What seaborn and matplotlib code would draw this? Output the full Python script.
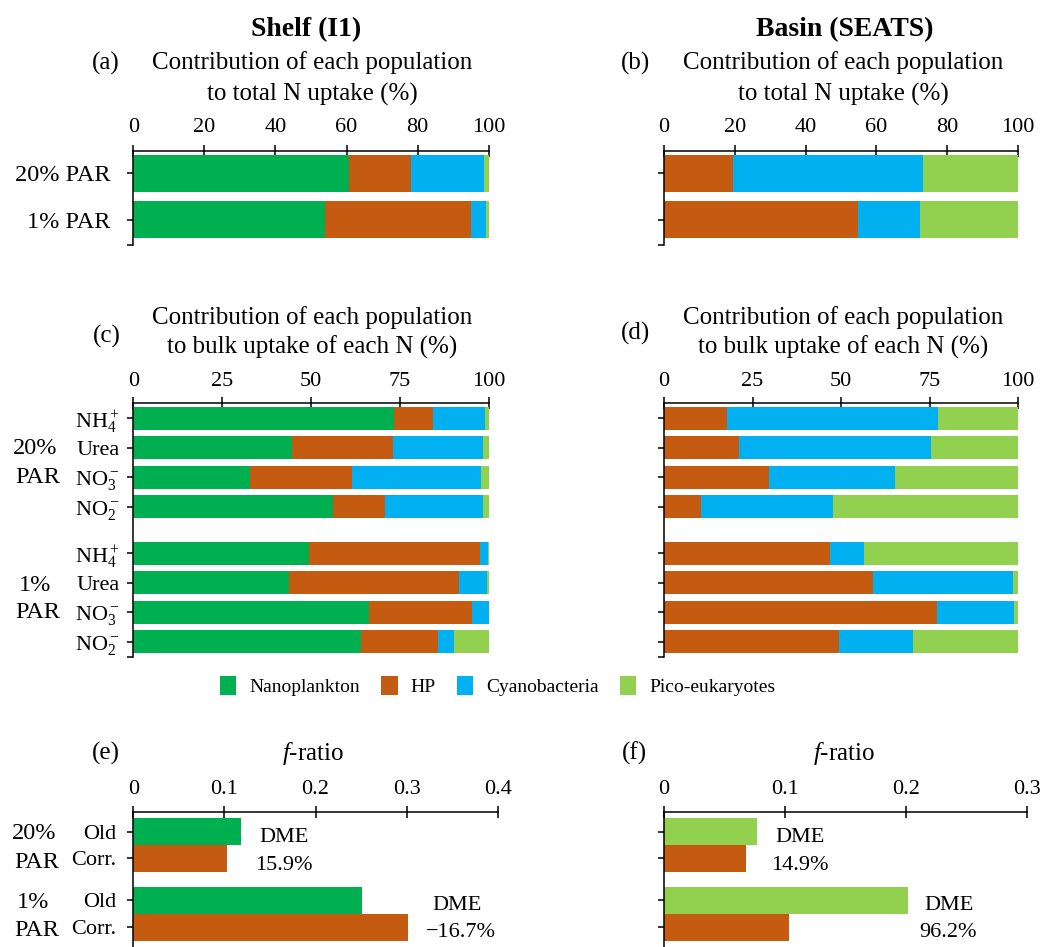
import numpy as np
import pandas as pd
import matplotlib
matplotlib.use("Agg")
import matplotlib.pyplot as plt
from matplotlib.patches import Patch
import seaborn as sns

# ------------------------------------------------------------------ data
populations = ["Nanoplankton", "HP", "Cyanobacteria", "Pico-eukaryotes"]
light_levels = ["20% PAR", "1% PAR"]

# (a) shelf: contribution to total N uptake (%)
shelf_total_nano = [60.8, 54.0]
shelf_total_hp = [17.4, 41.0]
shelf_total_cyano = [20.5, 4.1]
shelf_total_pico = [1.3, 0.9]

# (b) basin: contribution to total N uptake (%)
basin_total_nano = [0.0, 0.0]
basin_total_hp = [19.4, 54.9]
basin_total_cyano = [53.9, 17.4]
basin_total_pico = [26.7, 27.7]

# (c)/(d) contribution to bulk uptake of each N (%), 20% PAR then 1% PAR
n_species = [r"NH$_4^+$", "Urea", r"NO$_3^-$", r"NO$_2^-$"]
shelf_bulk_nano = [73.4, 44.7, 32.8, 56.3, 49.4, 43.9, 66.2, 64.2]
shelf_bulk_hp = [10.8, 28.5, 28.7, 14.5, 48.1, 47.8, 29.0, 21.4]
shelf_bulk_cyano = [14.8, 25.2, 36.2, 27.7, 2.3, 7.9, 4.8, 4.6]
shelf_bulk_pico = [1.0, 1.6, 2.3, 1.5, 0.2, 0.4, 0.0, 9.8]

basin_bulk_nano = [0.0, 0.0, 0.0, 0.0, 0.0, 0.0, 0.0, 0.0]
basin_bulk_hp = [17.7, 21.3, 29.8, 10.5, 46.8, 58.9, 77.0, 49.5]
basin_bulk_cyano = [59.6, 54.1, 35.5, 37.1, 9.7, 39.8, 21.9, 20.9]
basin_bulk_pico = [22.7, 24.6, 34.7, 52.4, 43.5, 1.3, 1.1, 29.6]

# (e)/(f) f-ratio
fratio_kinds = ["Old", "Corr."]
shelf_fratio_old = [0.118, 0.251]
shelf_fratio_corr = [0.1025, 0.302]
basin_fratio_old = [0.077, 0.202]
basin_fratio_corr = [0.0675, 0.103]
shelf_dme = ["15.9%", "\u221216.7%"]
basin_dme = ["14.9%", "96.2%"]

x_ticks_total = [0, 20, 40, 60, 80, 100]
x_ticks_bulk = [0, 25, 50, 75, 100]
x_ticks_shelf_f = [0, 0.1, 0.2, 0.3, 0.4]
x_ticks_basin_f = [0, 0.1, 0.2, 0.3]

# ------------------------------------------------------------------ style
pop_colors = ["#00B050", "#C55A11", "#00B0F0", "#92D050"]

sns.set_theme(style="white")
plt.rcParams["font.family"] = ["Liberation Serif", "DejaVu Serif"]
plt.rcParams.update({
    "mathtext.fontset": "custom",
    "mathtext.rm": "Liberation Serif",
    "mathtext.it": "Liberation Serif:italic",
    "mathtext.bf": "Liberation Serif:bold",
    "text.color": "black",
    "axes.labelcolor": "black",
    "xtick.color": "black",
    "ytick.color": "black",
    "axes.edgecolor": "black",
    "axes.linewidth": 1.1,
})

W, H = 1045, 947
fig = plt.figure(figsize=(W / 100, H / 100), dpi=100)


def fx(x):
    return x / W


def fy(y):
    return 1 - y / H


def add_ax(left, right, top, bottom):
    return fig.add_axes([fx(left), fy(bottom), (right - left) / W, (bottom - top) / H])


def style_axis(ax, xticks, xlim, ylim, ypos, ylabels, ylabelsize, ypad, xpad, hook=True):
    ax.set_xlim(*xlim)
    ax.set_ylim(*ylim)
    ax.xaxis.tick_top()
    ax.set_xticks(xticks)
    ax.set_xticklabels([f"{t:g}" for t in xticks])
    ax.set_yticks(ypos)
    ax.set_yticklabels(ylabels)
    if hook:
        ax.set_yticks([ylim[0]], minor=True)
    ax.set_xlabel("")
    ax.set_ylabel("")
    for s in ["right", "bottom"]:
        ax.spines[s].set_visible(False)
    ax.tick_params(axis="x", which="major", direction="inout", length=8, width=1.1,
                   labelsize=16, pad=xpad, top=True, bottom=False)
    ax.tick_params(axis="y", which="both", direction="out", length=4, width=1.1,
                   labelsize=ylabelsize, pad=ypad, left=True)


def stacked(ax, layers, pos, width):
    cum = np.cumsum(np.array(layers, dtype=float), axis=0)
    for k in range(len(layers) - 1, -1, -1):
        df = pd.DataFrame({"value": cum[k], "pos": pos})
        sns.barplot(data=df, x="value", y="pos", orient="y", native_scale=True,
                    color=pop_colors[k], saturation=1, width=width,
                    errorbar=None, linewidth=0, ax=ax)


def fratio(ax, old, corr, pos_old, pos_corr, old_color):
    df = pd.DataFrame({
        "value": list(old) + list(corr),
        "pos": list(pos_old) + list(pos_corr),
        "kind": [fratio_kinds[0]] * len(old) + [fratio_kinds[1]] * len(corr),
    })
    sns.barplot(data=df, x="value", y="pos", hue="kind", orient="y", native_scale=True,
                palette={fratio_kinds[0]: old_color, fratio_kinds[1]: pop_colors[1]},
                saturation=1, width=1.0, dodge=False, errorbar=None, linewidth=0,
                legend=False, ax=ax)


# ------------------------------------------------------------------ layout
pos_total = np.arange(len(light_levels))
pos_bulk = np.r_[np.arange(4), np.arange(4) + 4.57]
pos_f_old = np.array([0, 2.57])
pos_f_corr = pos_f_old + 1
pos_f = np.sort(np.r_[pos_f_old, pos_f_corr])

# (a)
ax_a = add_ax(133.3, 488.7, 150.7, 245)
stacked(ax_a, [shelf_total_nano, shelf_total_hp, shelf_total_cyano, shelf_total_pico], pos_total, 0.79)
style_axis(ax_a, x_ticks_total, (0, 100), (1.535, -0.48), pos_total, light_levels, 17.5, 12.5, 6)

# (b)
ax_b = add_ax(664, 1018, 150.7, 245)
stacked(ax_b, [basin_total_nano, basin_total_hp, basin_total_cyano, basin_total_pico], pos_total, 0.79)
style_axis(ax_b, x_ticks_total, (0, 100), (1.535, -0.48), pos_total, [""] * 2, 17.5, 12.5, 6)

# (c)
ax_c = add_ax(133.3, 488.7, 403.3, 656.7)
stacked(ax_c, [shelf_bulk_nano, shelf_bulk_hp, shelf_bulk_cyano, shelf_bulk_pico], pos_bulk, 0.79)
style_axis(ax_c, x_ticks_bulk, (0, 100), (8.08, -0.51), pos_bulk, n_species * 2, 16, 6, 4.5)

# (d)
ax_d = add_ax(664, 1018, 403.3, 656.7)
stacked(ax_d, [basin_bulk_nano, basin_bulk_hp, basin_bulk_cyano, basin_bulk_pico], pos_bulk, 0.79)
style_axis(ax_d, x_ticks_bulk, (0, 100), (8.08, -0.51), pos_bulk, [""] * 8, 16, 6, 4.5)

# (e)
ax_e = add_ax(133.3, 497.7, 811.7, 947)
fratio(ax_e, shelf_fratio_old, shelf_fratio_corr, pos_f_old, pos_f_corr, pop_colors[0])
style_axis(ax_e, x_ticks_shelf_f, (0, 0.4), (4.31, -0.75), pos_f, fratio_kinds * 2, 16, 8.5, 5, hook=False)

# (f)
ax_f = add_ax(664, 1027, 811.7, 947)
fratio(ax_f, basin_fratio_old, basin_fratio_corr, pos_f_old, pos_f_corr, pop_colors[3])
style_axis(ax_f, x_ticks_basin_f, (0, 0.3), (4.31, -0.75), pos_f, [""] * 4, 16, 8.5, 5, hook=False)

# ------------------------------------------------------------------ texts
def ftext(x, y, s, size, **kw):
    fig.text(fx(x), fy(y), s, fontsize=size, ha=kw.pop("ha", "center"),
             va=kw.pop("va", "center"), **kw)


ftext(306.5, 30, "Shelf (I1)", 20, fontweight="bold")
ftext(845, 30, "Basin (SEATS)", 20, fontweight="bold")

ftext(106, 63, "(a)", 18)
ftext(312, 63, "Contribution of each population", 18)
ftext(312, 94, "to total N uptake (%)", 18)
ftext(635, 63, "(b)", 18)
ftext(843, 63, "Contribution of each population", 18)
ftext(843, 94, "to total N uptake (%)", 18)

ftext(106.5, 336, "(c)", 18)
ftext(312, 318, "Contribution of each population", 18)
ftext(312, 347, "to bulk uptake of each N (%)", 18)
ftext(636, 333, "(d)", 18)
ftext(843, 318, "Contribution of each population", 18)
ftext(843, 347, "to bulk uptake of each N (%)", 18)

ftext(35, 448, "20%", 17.5)
ftext(38, 477, "PAR", 17.5)
ftext(35, 585, "1%", 17.5)
ftext(38, 613, "PAR", 17.5)

ftext(106, 753, "(e)", 18)
ftext(313, 753, r"$f$-ratio", 18)
ftext(634, 753, "(f)", 18)
ftext(844, 753, r"$f$-ratio", 18)

ftext(34, 833, "20%", 17.5)
ftext(37, 862, "PAR", 17.5)
ftext(33, 902, "1%", 17.5)
ftext(37, 930, "PAR", 17.5)

ftext(284, 838, "DME", 16)
ftext(284, 865, shelf_dme[0], 16)
ftext(457, 905, "DME", 16)
ftext(461, 932, shelf_dme[1], 16)
ftext(800, 838, "DME", 16)
ftext(800, 865, basin_dme[0], 16)
ftext(949, 905, "DME", 16)
ftext(948, 932, basin_dme[1], 16)

# legend
handles = [Patch(facecolor=c, edgecolor="none", label=p) for c, p in zip(pop_colors, populations)]
fig.legend(handles=handles, loc="center", bbox_to_anchor=(fx(497.5), fy(686)), ncol=4,
           frameon=False, fontsize=14, handlelength=0.85, handleheight=1.1,
           handletextpad=0.65, columnspacing=1.1, borderpad=0)

fig.savefig("out.png", dpi=100)
